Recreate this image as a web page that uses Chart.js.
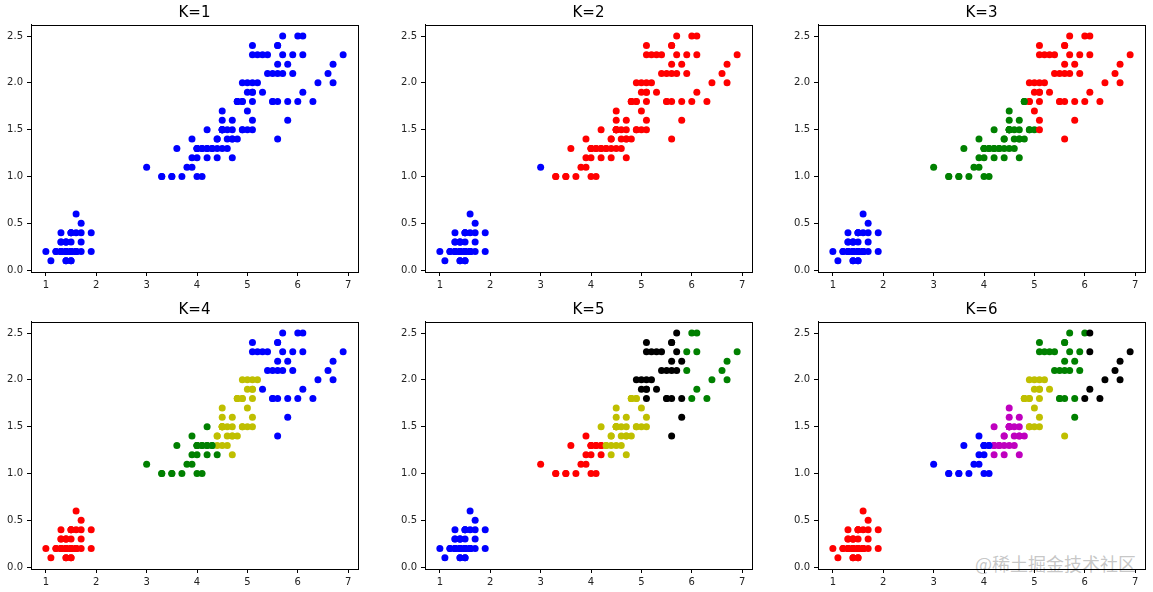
<!DOCTYPE html>
<html>
<head>
<meta charset="utf-8">
<script src="https://cdn.jsdelivr.net/npm/chart.js@4.4.1/dist/chart.umd.min.js"></script>
<style>
  html, body { margin: 0; padding: 0; background: #fff; }
  #wrap { position: relative; width: 1153px; height: 592px; overflow: hidden; }
  #wrap canvas { position: absolute; }
  .mark {
    position: absolute; left: 975px; top: 550px;
    font: 18px "Noto Sans CJK SC", sans-serif;
    color: rgba(150, 150, 150, 0.55);
    white-space: nowrap;
  }
</style>
</head>
<body>
<div id="wrap">
  <div class="mark">@稀土掘金技术社区</div>
</div>
<script>
// iris petal length / width (150 samples)
const petalLength = [
  1.4,1.4,1.3,1.5,1.4,1.7,1.4,1.5,1.4,1.5,
  1.5,1.6,1.4,1.1,1.2,1.5,1.3,1.4,1.7,1.5,
  1.7,1.5,1.0,1.7,1.9,1.6,1.6,1.5,1.4,1.6,
  1.6,1.5,1.5,1.4,1.5,1.2,1.3,1.4,1.3,1.5,
  1.3,1.3,1.3,1.6,1.9,1.4,1.6,1.4,1.5,1.4,
  4.7,4.5,4.9,4.0,4.6,4.5,4.7,3.3,4.6,3.9,
  3.5,4.2,4.0,4.7,3.6,4.4,4.5,4.1,4.5,3.9,
  4.8,4.0,4.9,4.7,4.3,4.4,4.8,5.0,4.5,3.5,
  3.8,3.7,3.9,5.1,4.5,4.5,4.7,4.4,4.1,4.0,
  4.4,4.6,4.0,3.3,4.2,4.2,4.2,4.3,3.0,4.1,
  6.0,5.1,5.9,5.6,5.8,6.6,4.5,6.3,5.8,6.1,
  5.1,5.3,5.5,5.0,5.1,5.3,5.5,6.7,6.9,5.0,
  5.7,4.9,6.7,4.9,5.7,6.0,4.8,4.9,5.6,5.8,
  6.1,6.4,5.6,5.1,5.6,6.1,5.6,5.5,4.8,5.4,
  5.6,5.1,5.1,5.9,5.7,5.2,5.0,5.2,5.4,5.1
];
const petalWidth = [
  0.2,0.2,0.2,0.2,0.2,0.4,0.3,0.2,0.2,0.1,
  0.2,0.2,0.1,0.1,0.2,0.4,0.4,0.3,0.3,0.3,
  0.2,0.4,0.2,0.5,0.2,0.2,0.4,0.2,0.2,0.2,
  0.2,0.4,0.1,0.2,0.2,0.2,0.2,0.1,0.2,0.2,
  0.3,0.3,0.2,0.6,0.4,0.3,0.2,0.2,0.2,0.2,
  1.4,1.5,1.5,1.3,1.5,1.3,1.6,1.0,1.3,1.4,
  1.0,1.5,1.0,1.4,1.3,1.4,1.5,1.0,1.5,1.1,
  1.8,1.3,1.5,1.2,1.3,1.4,1.4,1.7,1.5,1.0,
  1.1,1.0,1.2,1.6,1.5,1.6,1.5,1.3,1.3,1.3,
  1.2,1.4,1.2,1.0,1.3,1.2,1.3,1.3,1.1,1.3,
  2.5,1.9,2.1,1.8,2.2,2.1,1.7,1.8,1.8,2.5,
  2.0,1.9,2.1,2.0,2.4,2.3,1.8,2.2,2.3,1.5,
  2.3,2.0,2.0,1.8,2.1,1.8,1.8,1.8,2.1,1.6,
  1.9,2.0,2.2,1.5,1.4,2.3,2.4,1.8,1.8,2.1,
  2.4,2.3,1.9,2.3,2.5,2.3,1.9,2.0,2.3,1.8
];

// colour letter of each sample, per K
const clustersK1 = [
  'bbbbbbbbbb','bbbbbbbbbb','bbbbbbbbbb','bbbbbbbbbb','bbbbbbbbbb',
  'bbbbbbbbbb','bbbbbbbbbb','bbbbbbbbbb','bbbbbbbbbb','bbbbbbbbbb',
  'bbbbbbbbbb','bbbbbbbbbb','bbbbbbbbbb','bbbbbbbbbb','bbbbbbbbbb'
].join('');
const clustersK2 = [
  'bbbbbbbbbb','bbbbbbbbbb','bbbbbbbbbb','bbbbbbbbbb','bbbbbbbbbb',
  'rrrrrrrrrr','rrrrrrrrrr','rrrrrrrrrr','rrrrrrrrrr','rrrrrrrrbr',
  'rrrrrrrrrr','rrrrrrrrrr','rrrrrrrrrr','rrrrrrrrrr','rrrrrrrrrr'
].join('');
const clustersK3 = [
  'bbbbbbbbbb','bbbbbbbbbb','bbbbbbbbbb','bbbbbbbbbb','bbbbbbbbbb',
  'gggggggggg','gggggggggg','gggggggrgg','gggrgggggg','gggggggggg',
  'rrrrrrgrrr','rrrrrrrrrg','rrrrrrgrrr','rrrrrrrrgr','rrrrrrrrrr'
].join('');
const clustersK4 = [
  'rrrrrrrrrr','rrrrrrrrrr','rrrrrrrrrr','rrrrrrrrrr','rrrrrrrrrr',
  'yyygyyygyg','gggygyygyg','ygyygyyyyg','gggyyyyygg','gygggggggg',
  'bybbbbybbb','ybbybbbbby','bybybbyybb','bbbybbbbyb','bbybbbyyby'
].join('');
const clustersK5 = [
  'bbbbbbbbbb','bbbbbbbbbb','bbbbbbbbbb','bbbbbbbbbb','bbbbbbbbbb',
  'yyyryyyryr','ryryryyryr','yryyyyyyyr','rrryyyyyrr','yyrrrrryrr',
  'gkgkkgygkg','kkkkkkkggy','kkgykgyykk','ggkykgkkyk','kkkgkkkkkk'
].join('');
const clustersK6 = [
  'rrrrrrrrrr','rrrrrrrrrr','rrrrrrrrrr','rrrrrrrrrr','rrrrrrrrrr',
  'mmybmmmbmb','bmbmbmmbmb','ybymmmmymb','bbbymmmmbb','mmbbmmmmbb',
  'gygggkmkgk','yygygggkky','gykygkyygg','kkgyykggyg','ggygggyygy'
].join('');

const panelTitles = ['K=1', 'K=2', 'K=3', 'K=4', 'K=5', 'K=6'];
const panelClusters = [clustersK1, clustersK2, clustersK3, clustersK4, clustersK5, clustersK6];
const xTicks = [1, 2, 3, 4, 5, 6, 7];
const yTicks = [0.0, 0.5, 1.0, 1.5, 2.0, 2.5];

const COLORS = { b: '#0000ff', r: '#ff0000', g: '#008000', y: '#bfbf00', k: '#000000', m: '#bf00bf' };
const FONT = 'DejaVu Sans';

// axes box frame (matplotlib draws all four spines)
const framePlugin = {
  id: 'frame',
  afterDraw(chart) {
    const a = chart.chartArea, ctx = chart.ctx;
    ctx.save();
    ctx.strokeStyle = '#000';
    ctx.lineWidth = 1;
    ctx.strokeRect(Math.round(a.left) + 0.5, Math.round(a.top) + 0.5,
      Math.round(a.right - a.left), Math.round(a.bottom - a.top));
    ctx.restore();
  }
};

const wrap = document.getElementById('wrap');
const colLeft = [0, 394, 787];
const rowTop = [0, 297];

panelTitles.forEach((title, i) => {
  const cv = document.createElement('canvas');
  cv.width = 367; cv.height = 294;
  cv.style.width = '367px'; cv.style.height = '294px';
  cv.style.left = colLeft[i % 3] + 'px';
  cv.style.top = rowTop[Math.floor(i / 3)] + 'px';
  wrap.appendChild(cv);

  const labels = panelClusters[i];
  const points = petalLength.map((x, j) => ({ x, y: petalWidth[j] }));
  const colors = points.map((_, j) => COLORS[labels[j]]);

  new Chart(cv, {
    type: 'scatter',
    data: {
      datasets: [{
        data: points,
        pointRadius: 3.5,
        pointHoverRadius: 3.5,
        pointBorderWidth: 0,
        pointBackgroundColor: colors,
        pointBorderColor: colors
      }]
    },
    options: {
      responsive: false,
      animation: false,
      events: [],
      layout: { padding: { left: 0, right: 9, top: 0, bottom: 0 } },
      plugins: {
        legend: { display: false },
        tooltip: { enabled: false },
        title: {
          display: true,
          fullSize: false,
          text: title,
          color: '#000',
          font: { family: FONT, size: 15, weight: 'normal' },
          padding: { top: 4, bottom: 2.8 }
        }
      },
      scales: {
        x: {
          type: 'linear',
          min: 0.705, max: 7.195,
          afterBuildTicks: s => { s.ticks = xTicks.map(v => ({ value: v })); },
          afterFit: s => { s.height = 22; },
          ticks: { color: '#222', font: { family: FONT, size: 10 }, padding: 3, maxRotation: 0 },
          grid: { drawOnChartArea: false, drawTicks: true, tickLength: 4, color: '#000' },
          border: { display: true, color: '#000' }
        },
        y: {
          type: 'linear',
          min: -0.02, max: 2.62,
          afterBuildTicks: s => { s.ticks = yTicks.map(v => ({ value: v })); },
          afterFit: s => { s.width = 31; },
          ticks: {
            color: '#222', font: { family: FONT, size: 10 }, padding: 4,
            callback: v => Number(v).toFixed(1)
          },
          grid: { drawOnChartArea: false, drawTicks: true, tickLength: 4, color: '#000' },
          border: { display: true, color: '#000' }
        }
      }
    },
    plugins: [framePlugin]
  });
});
</script>
</body>
</html>
